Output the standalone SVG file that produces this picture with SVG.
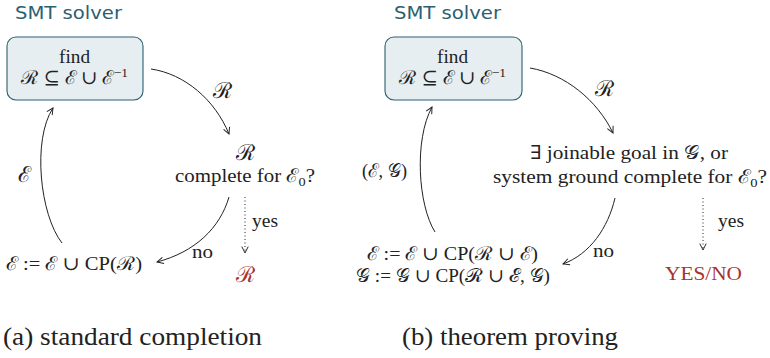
<svg xmlns="http://www.w3.org/2000/svg" width="770" height="358" viewBox="0 0 770 358">
<defs>
<marker id="arr" viewBox="0 0 10 10" refX="9" refY="5" markerWidth="8" markerHeight="8" markerUnits="userSpaceOnUse" orient="auto">
<path d="M1,1 L9,5 L1,9" fill="none" stroke="#222" stroke-width="1.2"/>
</marker>
</defs>
<style>
.t{font-family:"Liberation Serif","DejaVu Serif",serif;font-size:19px;fill:#222}
.big{font-size:22px}
.title{font-family:"DejaVu Sans","Liberation Sans",sans-serif;font-size:18px;fill:#2b6070}
.cap{font-family:"Liberation Serif","DejaVu Serif",serif;font-size:25px;fill:#222}
.red{fill:#a8332d}
.box{fill:#e7eef1;stroke:#2b6070;stroke-width:1.1}
.c{fill:none;stroke:#222;stroke-width:1}
.d{fill:none;stroke:#222;stroke-width:1;stroke-dasharray:1 2.5}
</style>
<text class="title" x="15" y="19" textLength="107" lengthAdjust="spacingAndGlyphs">SMT solver</text>
<text class="title" x="394" y="19" textLength="107" lengthAdjust="spacingAndGlyphs">SMT solver</text>
<g id="boxA">
<rect class="box" x="7" y="37" width="136" height="63" rx="9"/>
<text class="t" x="59" y="63" textLength="31" lengthAdjust="spacingAndGlyphs">find</text>
<text class="t" x="21" y="84" textLength="107" lengthAdjust="spacingAndGlyphs">ℛ ⊆ ℰ ∪ ℰ<tspan dy="-7" font-size="13">−1</tspan></text>
</g>
<g id="checkA">
<text class="t big" x="245" y="160" text-anchor="middle">ℛ</text>
<text class="t" x="175" y="182" textLength="140" lengthAdjust="spacingAndGlyphs">complete for ℰ<tspan dy="4" font-size="13">0</tspan><tspan dy="-4">?</tspan></text>
</g>
<g id="updA">
<text class="t" x="6" y="270" textLength="136" lengthAdjust="spacingAndGlyphs">ℰ := ℰ ∪ CP(ℛ)</text>
</g>
<g id="resA">
<text class="t big red" x="245" y="282" text-anchor="middle">ℛ</text>
</g>
<g id="boxB">
<rect class="box" x="385" y="37" width="137" height="63" rx="9"/>
<text class="t" x="437" y="63" textLength="31" lengthAdjust="spacingAndGlyphs">find</text>
<text class="t" x="399" y="84" textLength="107" lengthAdjust="spacingAndGlyphs">ℛ ⊆ ℰ ∪ ℰ<tspan dy="-7" font-size="13">−1</tspan></text>
</g>
<g id="checkB">
<text class="t" x="530" y="159" textLength="198" lengthAdjust="spacingAndGlyphs">∃ joinable goal in 𝒢, or</text>
<text class="t" x="493" y="183" textLength="274" lengthAdjust="spacingAndGlyphs">system ground complete for ℰ<tspan dy="4" font-size="13">0</tspan><tspan dy="-4">?</tspan></text>
</g>
<g id="updB">
<text class="t" x="367" y="260" textLength="171" lengthAdjust="spacingAndGlyphs">ℰ := ℰ ∪ CP(ℛ ∪ ℰ)</text>
<text class="t" x="356" y="282" textLength="194" lengthAdjust="spacingAndGlyphs">𝒢 := 𝒢 ∪ CP(ℛ ∪ ℰ, 𝒢)</text>
</g>
<g id="resB">
<text class="t red" x="665" y="280" textLength="77" lengthAdjust="spacingAndGlyphs">YES/NO</text>
</g>
<g id="connectors">
<path class="c" d="M151,69 C185,74 215,100 229,134" marker-end="url(#arr)"/>
<text class="t big" x="213" y="98">ℛ</text>
<path class="c" d="M229,197 C220,228 195,252 157,262" marker-end="url(#arr)"/>
<text class="t" x="192" y="258" textLength="21" lengthAdjust="spacingAndGlyphs">no</text>
<path class="d" d="M245,197 L245,253" marker-end="url(#arr)"/>
<text class="t" x="252" y="227" textLength="26" lengthAdjust="spacingAndGlyphs">yes</text>
<path class="c" d="M62,243 C40,215 32,140 53,108" marker-end="url(#arr)"/>
<text class="t big" x="18" y="182">ℰ</text>
<path class="c" d="M530,68 C565,74 597,100 613,133" marker-end="url(#arr)"/>
<text class="t big" x="595" y="96">ℛ</text>
<path class="c" d="M615,198 C608,228 590,254 563,264" marker-end="url(#arr)"/>
<text class="t" x="593" y="257" textLength="21" lengthAdjust="spacingAndGlyphs">no</text>
<path class="d" d="M703,198 L703,250" marker-end="url(#arr)"/>
<text class="t" x="718" y="227" textLength="26" lengthAdjust="spacingAndGlyphs">yes</text>
<path class="c" d="M435,232 C418,205 414,140 432,107" marker-end="url(#arr)"/>
<text class="t" x="362" y="177" textLength="45" lengthAdjust="spacingAndGlyphs">(ℰ, 𝒢)</text>
</g>
<text class="cap" x="3" y="345" textLength="259" lengthAdjust="spacingAndGlyphs">(a) standard completion</text>
<text class="cap" x="402" y="345" textLength="216" lengthAdjust="spacingAndGlyphs">(b) theorem proving</text>
</svg>
